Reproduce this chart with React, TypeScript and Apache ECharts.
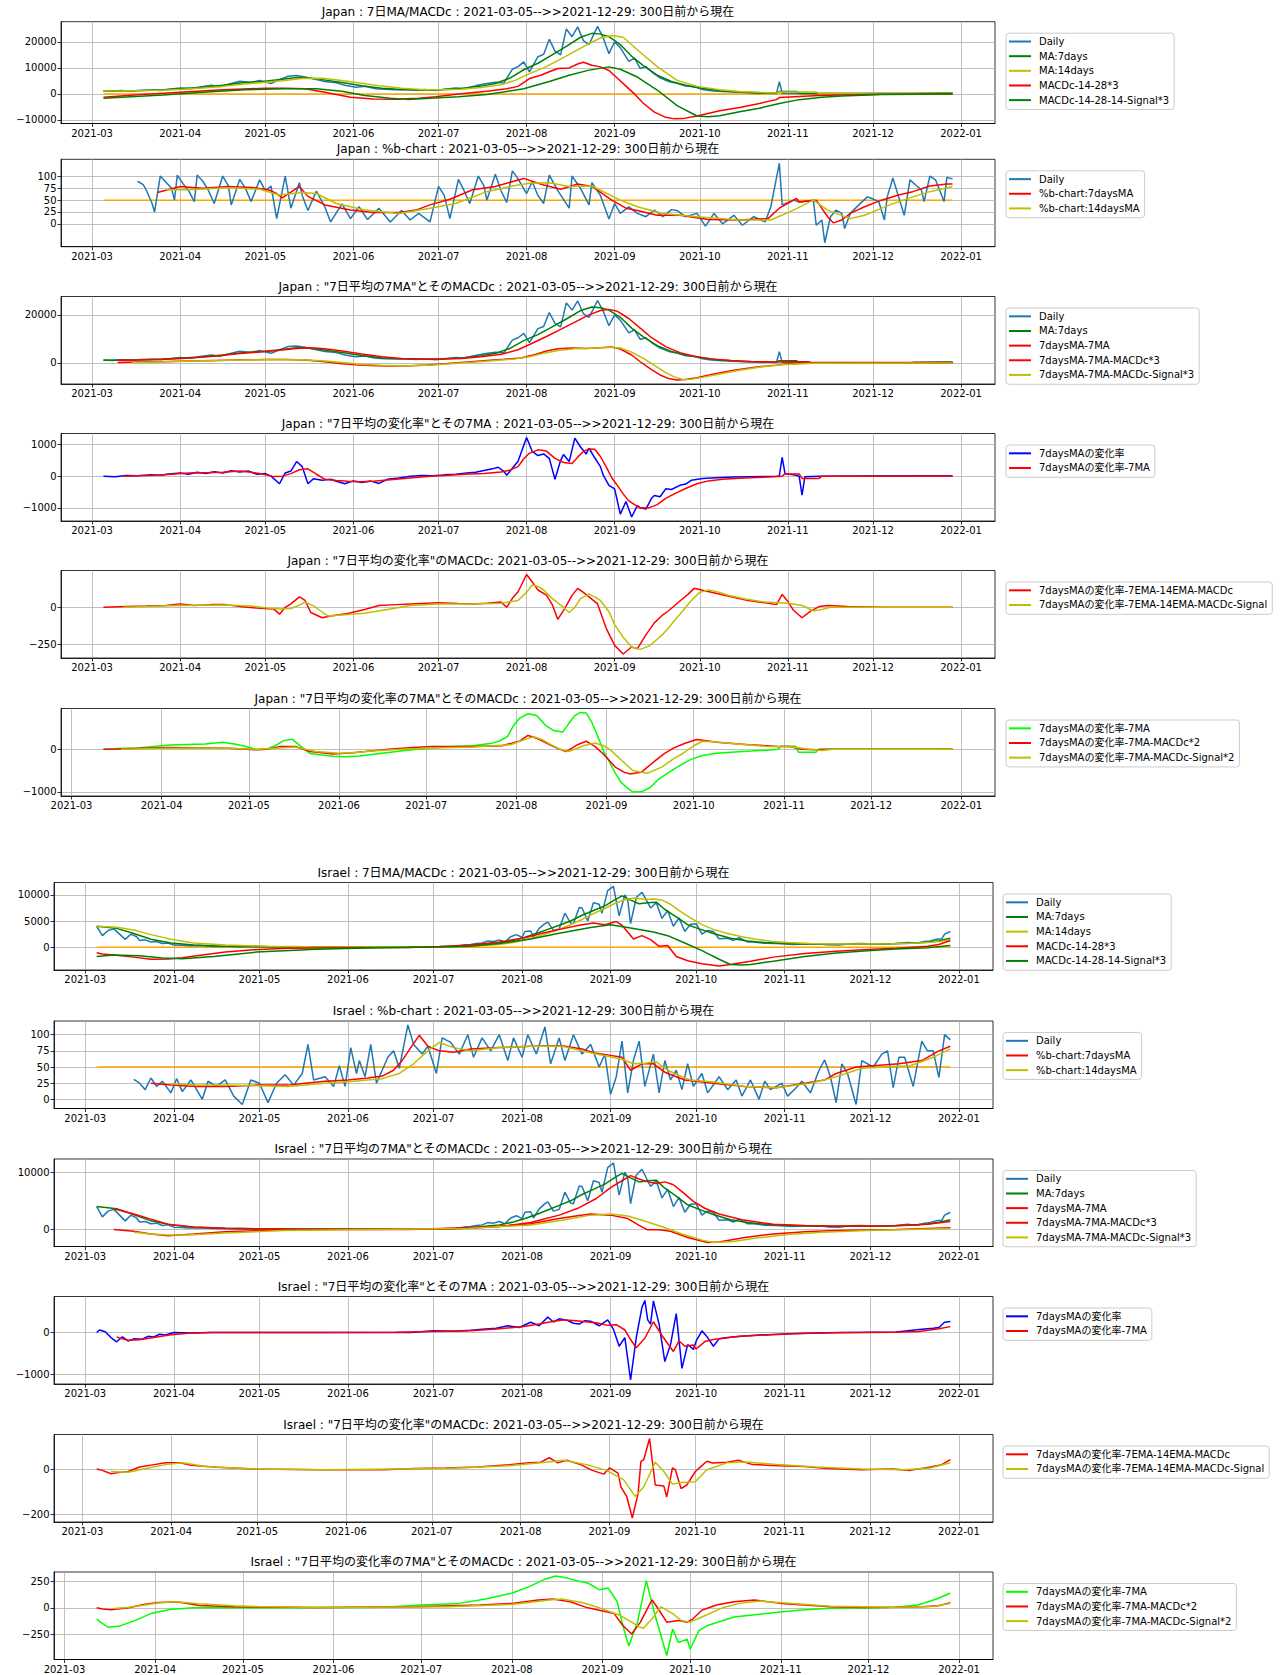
import React, { useEffect, useRef } from "react";
import * as echarts from "echarts";

type P = [number, number][];

const START = Date.UTC(2021, 2, 5);
const DAY = 86400000;
const FONT = "'DejaVu Sans', 'Noto Sans CJK JP', sans-serif";

const xTickLabels = ["2021-03", "2021-04", "2021-05", "2021-06", "2021-07", "2021-08", "2021-09", "2021-10", "2021-11", "2021-12", "2022-01"];

// ---------- Japan ----------
const jpDaily: P = [[0,1250],[3,1050],[6,1300],[10,1150],[13,1400],[17,1500],[20,1300],[24,1900],[27,2300],[31,2000],[34,2700],[38,3300],[41,2800],[45,4000],[48,4900],[52,4400],[55,5200],[59,4000],[62,5500],[65,6800],[68,7100],[71,6500],[75,5500],[78,4800],[82,4300],[85,3300],[89,2600],[92,2900],[96,2000],[99,1800],[103,1600],[106,1700],[110,1400],[113,1700],[117,1300],[120,1800],[124,2300],[127,2100],[131,3100],[134,3800],[138,4500],[141,4200],[144,9500],[146,10500],[148,12300],[150,8500],[153,14300],[155,15200],[157,21000],[159,16500],[161,15000],[163,25000],[165,22000],[167,25800],[169,20500],[171,19000],[174,26000],[176,21500],[178,15500],[180,20000],[182,17800],[185,12500],[187,13800],[189,9800],[191,10500],[193,8500],[196,6200],[199,4800],[202,4100],[205,3000],[208,2800],[211,1700],[214,1200],[218,900],[222,700],[226,500],[230,350],[234,250],[237,200],[238,4700],[239,250],[245,150],[255,120],[265,130],[275,120],[285,200],[292,300],[299,400]];
const jpMa7: P = [[0,1150],[7,1250],[14,1350],[21,1600],[28,2100],[35,2600],[42,3300],[49,4300],[56,4800],[63,5600],[68,6300],[72,6200],[77,5500],[84,4400],[91,3100],[98,2200],[105,1700],[112,1550],[119,1600],[126,2100],[133,3000],[138,4000],[143,6000],[148,9300],[153,11800],[158,15000],[163,18300],[168,21800],[172,23300],[175,23000],[178,22000],[182,19000],[186,14500],[190,11000],[195,7200],[200,4800],[205,3300],[210,2300],[217,1200],[224,700],[231,400],[237,300],[238,950],[244,950],[245,200],[255,130],[270,130],[285,170],[299,330]];
const jpMa14: P = [[0,1150],[7,1200],[14,1300],[21,1450],[28,1800],[35,2300],[42,2900],[49,3700],[56,4400],[63,5100],[70,5900],[77,6000],[84,5200],[91,4100],[98,3000],[105,2200],[112,1700],[119,1600],[126,1800],[133,2500],[140,3500],[145,5200],[150,7800],[155,10000],[160,12800],[165,15800],[170,18800],[175,21500],[179,22500],[183,21800],[188,17000],[195,10500],[202,5200],[209,2900],[217,1600],[224,900],[231,600],[237,400],[238,700],[251,700],[252,180],[265,140],[280,160],[299,280]];
const jpMacd: P = [[0,-1300],[12,-300],[27,650],[42,1570],[57,2200],[64,2200],[71,1960],[78,650],[87,-1300],[95,-1960],[103,-2090],[111,-1700],[117,-1050],[125,0],[135,1050],[142,1960],[146,2900],[150,5900],[154,7200],[157,8500],[160,9800],[164,10000],[167,11500],[169,12200],[172,11000],[175,10400],[178,9000],[181,6000],[184,3000],[187,0],[190,-3500],[194,-7000],[198,-9000],[201,-9600],[204,-9500],[209,-8500],[217,-6500],[224,-5200],[231,-3650],[237,-2200],[238,-1400],[245,-1000],[252,-650],[260,-400],[274,-150],[299,0]];
const jpMacdSig: P = [[0,-1700],[21,-400],[35,650],[50,1570],[64,1960],[75,1960],[84,1050],[92,-650],[101,-1700],[107,-2100],[115,-1700],[125,-1050],[135,-260],[148,1960],[157,4800],[164,7200],[171,9150],[178,10400],[182,9500],[188,6500],[195,1500],[202,-4500],[209,-8500],[213,-8800],[217,-8400],[224,-6900],[231,-5500],[238,-3650],[245,-2200],[253,-1300],[260,-800],[274,-260],[299,0]];
const jpPctB: P = [[12,90],[14,83],[15,72],[17,45],[18,25],[20,101],[22,88],[24,75],[25,50],[26,103],[28,85],[30,70],[32,47],[33,103],[35,90],[37,70],[39,43],[42,101],[44,80],[45,40],[48,94],[50,75],[52,47],[55,93],[57,70],[59,80],[61,11],[64,101],[66,33],[69,87],[70,60],[72,28],[75,69],[78,35],[80,4],[84,42],[87,11],[90,36],[93,9],[97,33],[101,4],[105,28],[108,8],[111,22],[115,4],[118,79],[120,60],[122,11],[125,94],[127,70],[129,43],[132,101],[134,80],[135,50],[138,105],[140,70],[142,45],[144,112],[146,95],[149,64],[151,89],[153,60],[155,43],[157,103],[160,70],[164,33],[165,101],[168,75],[171,40],[172,87],[175,60],[178,10],[180,43],[182,22],[185,36],[188,22],[191,15],[194,29],[197,15],[200,30],[202,28],[205,15],[209,22],[212,-5],[215,22],[218,0],[222,18],[225,-3],[229,15],[233,4],[235,36],[238,128],[239,40],[243,50],[245,46],[250,50],[251,-3],[253,8],[254,-40],[256,15],[258,29],[260,22],[261,-10],[263,22],[266,40],[269,57],[270,55],[273,47],[275,8],[276,57],[278,97],[280,57],[282,18],[284,93],[286,82],[288,72],[289,47],[291,101],[293,93],[296,47],[297,98],[299,95]];
const jpPctB7: P = [[19,66],[27,79],[35,75],[44,79],[52,77],[58,72],[61,64],[63,55],[69,79],[72,58],[78,40],[87,29],[95,24],[104,24],[110,29],[115,40],[122,52],[130,72],[138,79],[148,96],[155,82],[161,73],[167,84],[172,79],[179,50],[184,33],[188,28],[195,18],[203,18],[213,9],[224,8],[234,11],[238,33],[243,50],[244,54],[245,46],[251,50],[255,15],[257,2],[260,8],[263,22],[268,36],[274,50],[280,61],[285,68],[291,80],[297,84],[299,84]];
const jpPctB14: P = [[22,72],[30,72],[44,76],[55,73],[62,61],[70,66],[75,64],[82,43],[92,29],[104,22],[115,33],[124,43],[135,68],[144,80],[150,86],[157,87],[164,79],[172,80],[182,50],[188,36],[197,22],[209,15],[224,8],[235,8],[243,29],[250,50],[255,29],[263,11],[268,18],[277,40],[285,57],[291,68],[299,79]];
const jpMa7Ma7: P = [[5,1150],[12,1250],[19,1400],[26,1800],[33,2300],[40,2900],[47,3800],[54,4500],[61,5200],[68,6000],[73,6300],[78,5900],[84,5000],[91,3700],[98,2600],[105,1900],[112,1600],[119,1600],[126,1900],[133,2600],[140,3600],[146,5500],[151,8200],[156,11000],[161,14000],[166,17000],[171,20000],[175,21800],[178,22300],[181,21500],[185,18500],[189,14500],[193,10500],[198,6800],[203,4300],[208,2800],[214,1700],[221,1000],[228,650],[235,450],[241,400],[242,550],[248,550],[249,300],[260,180],[275,150],[299,230]];
const jpMa7Macd: P = [[5,200],[12,350],[20,550],[30,800],[40,1050],[50,1300],[57,1450],[64,1450],[71,1200],[78,500],[84,-300],[90,-900],[96,-1200],[102,-1250],[108,-1150],[114,-800],[120,-300],[127,300],[134,900],[141,1500],[147,2100],[152,3500],[156,5000],[160,5900],[165,6200],[170,6000],[175,6300],[179,6600],[182,5800],[186,3300],[189,500],[193,-2800],[196,-5000],[199,-6500],[202,-7100],[205,-6900],[209,-6100],[215,-4600],[222,-3000],[230,-1700],[237,-900],[241,-300],[250,0],[299,20]];
const jpMa7MacdSig: P = [[10,150],[15,300],[25,600],[35,900],[45,1150],[55,1350],[62,1400],[70,1300],[78,800],[85,100],[92,-600],[98,-1000],[104,-1150],[110,-1050],[116,-800],[122,-350],[130,300],[138,1000],[145,1700],[150,2600],[155,4000],[160,5200],[166,5900],[172,6100],[178,6500],[182,6200],[186,4500],[190,2000],[194,-1000],[198,-4000],[201,-5800],[204,-6900],[207,-6800],[211,-6000],[217,-4600],[224,-3000],[232,-1600],[240,-600],[250,-100],[299,20]];
const jpRoc: P = [[0,0],[4,-20],[8,20],[12,10],[16,40],[20,30],[23,70],[27,100],[30,60],[33,120],[36,80],[39,140],[42,100],[45,170],[48,130],[51,160],[54,60],[57,80],[59,0],[62,-240],[64,100],[66,160],[68,460],[70,300],[72,-240],[74,-80],[77,-130],[80,-100],[82,-160],[85,-240],[88,-150],[91,-200],[94,-150],[97,-230],[100,-100],[104,-60],[108,0],[112,20],[116,10],[120,40],[124,60],[128,100],[131,120],[134,180],[137,230],[139,280],[141,150],[142,30],[144,250],[146,470],[149,1220],[151,780],[153,650],[155,700],[157,560],[159,-100],[161,500],[162,680],[164,460],[166,1200],[168,920],[170,700],[171,880],[173,580],[175,300],[176,30],[178,-290],[180,-400],[182,-1200],[184,-800],[186,-1290],[188,-930],[189,-1000],[191,-1040],[193,-700],[194,-610],[196,-650],[198,-400],[200,-420],[203,-290],[205,-250],[207,-130],[211,-75],[216,-50],[222,-30],[227,-20],[233,-10],[237,0],[238,5],[239,590],[240,85],[244,30],[245,-10],[246,-600],[247,-20],[252,0],[270,5],[299,10]];
const jpRoc7: P = [[7,0],[9,5],[12,15],[19,30],[25,70],[30,100],[36,110],[42,120],[48,160],[52,120],[55,80],[60,-15],[63,0],[66,80],[69,200],[72,230],[75,60],[78,-100],[82,-137],[86,-165],[90,-177],[95,-160],[100,-120],[105,-80],[110,-40],[115,0],[120,24],[127,60],[134,80],[140,130],[143,185],[146,300],[148,550],[150,720],[153,830],[156,790],[159,560],[162,430],[165,400],[167,600],[169,780],[171,860],[173,850],[175,620],[177,300],[179,-50],[181,-300],[183,-560],[185,-780],[187,-900],[189,-1005],[192,-1000],[195,-900],[198,-700],[201,-560],[205,-390],[209,-240],[213,-150],[218,-97],[224,-65],[230,-45],[236,-20],[239,0],[240,70],[245,70],[246,-72],[252,-72],[253,0],[270,0],[299,5]];
const jpRocMacd: P = [[0,0],[8,5],[15,8],[22,12],[27,23],[32,12],[38,18],[43,18],[48,5],[54,-5],[58,-10],[60,-12],[62,-46],[64,0],[66,23],[69,70],[71,46],[73,-35],[77,-70],[80,-58],[86,-42],[92,-15],[97,12],[103,18],[108,23],[118,30],[125,25],[130,23],[135,28],[140,35],[142,0],[144,60],[146,104],[149,220],[151,170],[153,116],[156,81],[158,20],[160,-81],[162,-20],[163,12],[165,80],[167,127],[169,100],[171,70],[174,23],[177,-139],[180,-255],[183,-313],[186,-266],[188,-278],[191,-185],[194,-104],[197,-50],[199,-23],[203,42],[206,90],[208,127],[211,115],[216,93],[221,70],[227,46],[233,30],[237,18],[239,86],[241,40],[243,-20],[246,-70],[249,-25],[252,5],[255,12],[262,5],[275,0],[299,0]];
const jpRocMacdSig: P = [[7,0],[15,5],[23,10],[33,14],[43,15],[52,8],[58,-5],[62,-12],[66,-8],[69,15],[71,35],[74,10],[76,-18],[79,-58],[85,-50],[92,-40],[100,-15],[108,12],[118,23],[130,23],[140,28],[146,46],[149,100],[151,150],[153,140],[155,116],[158,60],[162,0],[164,-35],[166,0],[168,58],[171,88],[173,70],[175,46],[178,-30],[180,-116],[183,-200],[186,-266],[189,-282],[192,-260],[194,-231],[197,-180],[199,-139],[201,-90],[203,-46],[207,46],[210,100],[213,116],[217,100],[220,81],[226,55],[233,35],[241,28],[246,12],[250,-23],[253,-15],[256,0],[299,0]];
const jpRoc7Macd: P = [[7,0],[12,5],[20,20],[30,40],[40,35],[50,24],[59,-16],[63,-5],[68,64],[73,64],[78,-56],[86,-113],[92,-90],[97,-56],[105,0],[112,35],[120,64],[134,64],[144,80],[150,185],[153,322],[155,280],[157,225],[160,120],[163,24],[166,-56],[168,20],[170,105],[173,185],[176,64],[179,-120],[183,-420],[186,-540],[188,-580],[192,-540],[197,-258],[200,-100],[203,24],[207,140],[211,225],[215,190],[218,161],[229,105],[239,64],[243,60],[247,0],[252,-16],[256,0],[299,0]];
const jpRoc7MacdSig: P = [[13,0],[25,15],[40,25],[50,20],[60,-5],[66,20],[73,48],[80,-56],[88,-97],[95,-70],[100,-40],[110,0],[120,30],[134,48],[147,105],[152,230],[155,290],[158,220],[161,100],[164,0],[167,-56],[170,20],[172,80],[176,145],[179,80],[181,0],[185,-250],[189,-500],[194,-565],[199,-420],[203,-230],[206,-113],[210,80],[213,185],[218,170],[222,140],[235,64],[243,55],[250,0],[254,-32],[258,0],[299,0]];

// ---------- Israel ----------
const ilDaily: P = [[0,4000],[2,2200],[4,3200],[6,3500],[8,2500],[10,1500],[12,2500],[14,2000],[15,1300],[17,1400],[19,1000],[21,1100],[23,700],[25,800],[27,400],[30,350],[32,250],[36,300],[41,150],[46,120],[50,100],[56,80],[62,60],[70,50],[77,30],[85,20],[95,15],[105,15],[112,20],[118,40],[122,150],[126,200],[129,450],[131,500],[133,700],[135,800],[137,1200],[139,1100],[141,1400],[143,1000],[145,2000],[147,2400],[149,1900],[150,3000],[152,3100],[153,2000],[155,3600],[157,4500],[158,4800],[160,3200],[162,3500],[164,6500],[166,4600],[167,4500],[169,7600],[170,7500],[172,5000],[174,8500],[176,8200],[177,6500],[179,10800],[181,11600],[183,6000],[185,10000],[186,9000],[187,4500],[189,9500],[191,10500],[193,8500],[194,7500],[196,8500],[198,5500],[200,7000],[202,4000],[204,5600],[206,3000],[208,4400],[210,4500],[212,2500],[214,3200],[216,3000],[218,1600],[221,1700],[223,1300],[225,1800],[228,1000],[230,1000],[234,750],[238,700],[244,500],[248,600],[252,650],[256,450],[260,400],[264,650],[268,700],[272,550],[276,600],[280,700],[284,900],[287,750],[290,1100],[292,1200],[294,1500],[296,1600],[297,2500],[299,3000]];
const ilMa7: P = [[0,4000],[7,3600],[13,2600],[19,1500],[26,800],[34,400],[45,200],[60,100],[75,60],[90,20],[105,15],[115,25],[120,60],[126,150],[131,300],[136,550],[141,800],[146,1300],[150,1900],[154,2600],[158,3400],[162,4200],[166,5000],[170,6100],[174,7000],[178,7900],[181,8900],[184,9800],[187,9000],[190,8300],[193,8500],[196,8600],[199,7200],[203,5800],[207,4300],[211,3500],[216,2600],[222,1700],[228,1200],[234,900],[240,750],[248,620],[256,560],[265,580],[275,620],[285,750],[291,950],[295,1250],[299,1700]];
const ilMa14: P = [[0,4000],[7,3800],[13,3300],[19,2400],[26,1500],[34,800],[45,400],[60,180],[75,80],[90,30],[105,20],[115,25],[120,40],[126,100],[131,200],[136,350],[141,500],[146,900],[151,1500],[156,2300],[161,3200],[166,4300],[170,5300],[174,6400],[178,7400],[182,8500],[186,9200],[189,9400],[192,9100],[195,9200],[198,9000],[201,8200],[204,7000],[208,5600],[212,4300],[216,3400],[221,2600],[226,2000],[231,1500],[236,1150],[242,900],[250,700],[258,620],[268,600],[278,650],[286,750],[292,950],[296,1150],[299,1400]];
const ilMacd: P = [[0,-1050],[2,-1300],[6,-1500],[13,-1900],[19,-2300],[25,-2250],[30,-2000],[35,-1650],[45,-940],[55,-500],[67,-220],[88,-110],[109,-50],[120,110],[131,440],[141,1000],[150,1800],[156,2650],[163,3500],[169,4200],[174,4600],[178,4300],[182,4900],[184,4200],[186,2900],[188,1550],[191,2200],[194,1440],[197,165],[200,330],[203,-1770],[207,-2600],[212,-3150],[218,-3600],[222,-3300],[229,-2700],[237,-1900],[248,-1215],[259,-770],[270,-440],[280,-220],[291,165],[295,500],[299,1270]];
const ilMacdSig: P = [[0,-1770],[6,-1500],[15,-1650],[23,-2050],[30,-2200],[41,-1770],[56,-940],[77,-390],[98,-110],[120,55],[131,160],[141,720],[152,1550],[162,2650],[173,3750],[180,4300],[186,3750],[195,2900],[200,2200],[206,800],[212,-660],[218,-2300],[222,-3300],[226,-3400],[229,-3300],[237,-2700],[248,-1800],[259,-1100],[270,-660],[280,-330],[291,-110],[299,330]];
const ilPctB: P = [[13,31],[15,25],[17,15],[19,33],[21,20],[23,28],[26,10],[28,32],[30,12],[33,30],[37,0],[39,28],[42,20],[45,30],[48,5],[51,-8],[54,30],[57,25],[60,-5],[63,25],[66,38],[69,22],[72,40],[74,85],[76,30],[80,35],[83,20],[85,52],[87,20],[89,80],[91,40],[92,60],[94,35],[96,85],[98,25],[100,45],[102,65],[104,75],[106,48],[109,115],[111,85],[114,70],[116,82],[119,40],[121,95],[124,88],[127,70],[130,100],[132,65],[135,95],[138,75],[141,100],[144,60],[146,95],[149,65],[151,100],[154,70],[157,112],[159,55],[162,95],[164,60],[167,100],[170,70],[173,85],[176,50],[178,70],[180,8],[182,35],[184,90],[186,10],[188,60],[190,90],[192,20],[195,70],[197,10],[199,60],[201,30],[203,45],[205,15],[207,55],[209,20],[212,40],[214,10],[218,35],[221,15],[224,30],[226,5],[229,30],[232,0],[234,28],[236,15],[240,25],[242,5],[245,18],[247,28],[250,10],[253,45],[255,61],[257,35],[259,-5],[261,55],[263,40],[266,-8],[268,60],[272,50],[275,70],[277,75],[279,18],[281,65],[283,65],[286,20],[289,90],[291,75],[293,75],[295,34],[297,100],[299,92]];
const ilPctB7: P = [[19,25],[26,22],[35,20],[45,20],[56,22],[67,22],[73,25],[80,28],[88,30],[95,33],[100,36],[104,45],[107,60],[110,80],[113,99],[116,82],[120,75],[125,73],[131,78],[141,80],[152,82],[163,83],[170,78],[174,72],[180,68],[184,65],[187,45],[191,55],[195,55],[199,42],[203,35],[206,30],[216,25],[227,20],[238,18],[248,25],[255,30],[259,40],[266,50],[272,52],[281,55],[289,60],[295,75],[299,82]];
const ilPctB14: P = [[26,24],[35,22],[45,22],[56,21],[67,20],[80,25],[90,28],[100,32],[106,40],[111,55],[116,75],[120,88],[125,80],[131,75],[141,80],[152,82],[163,82],[173,72],[184,62],[188,55],[192,56],[196,58],[200,45],[205,35],[208,30],[216,27],[227,20],[238,18],[250,25],[259,35],[268,48],[276,50],[285,52],[293,65],[299,78]];
const ilMa7Ma7: P = [[6,3600],[13,2700],[19,1800],[25,900],[34,450],[45,200],[66,80],[88,20],[109,20],[120,40],[130,200],[141,500],[152,1200],[162,2500],[169,3800],[175,5400],[180,7300],[184,8500],[187,9400],[190,8800],[193,8300],[196,8000],[199,8300],[202,7800],[205,6600],[209,4900],[213,3700],[218,2700],[226,1700],[237,900],[248,700],[259,600],[270,600],[280,650],[291,900],[299,1400]];
const ilMa7Macd: P = [[6,0],[13,-300],[19,-780],[25,-1080],[34,-800],[45,-420],[66,-60],[88,0],[109,10],[130,300],[141,540],[152,1000],[162,1900],[169,2450],[173,2700],[180,2500],[186,1900],[190,720],[193,-60],[197,-60],[201,-300],[207,-1400],[214,-2280],[218,-2200],[227,-1400],[237,-780],[248,-420],[259,-180],[280,0],[299,300]];
const ilMa7MacdSig: P = [[13,-480],[19,-780],[25,-960],[32,-960],[45,-600],[66,-200],[88,-30],[130,180],[152,780],[163,1600],[173,2500],[180,2700],[186,2350],[193,1300],[199,300],[205,-780],[212,-1860],[216,-2280],[223,-2100],[231,-1500],[242,-900],[254,-480],[270,-180],[299,180]];
const ilRoc: P = [[0,0],[1,60],[3,20],[5,-120],[7,-220],[9,-100],[11,-200],[13,-150],[16,-160],[18,-90],[20,-105],[22,-40],[24,-57],[27,0],[33,-10],[40,0],[60,0],[80,0],[100,0],[110,0],[118,40],[125,30],[131,57],[135,80],[140,100],[144,160],[148,120],[152,245],[155,160],[158,365],[160,250],[162,325],[165,285],[167,220],[169,200],[171,280],[173,270],[176,160],[179,300],[181,80],[183,-325],[185,-120],[187,-1126],[189,-120],[191,600],[192,760],[193,300],[194,200],[195,750],[197,200],[199,-690],[201,-285],[203,450],[205,-850],[207,-285],[209,-400],[210,-200],[212,40],[214,-120],[216,-325],[218,-150],[221,-120],[227,-80],[235,-50],[245,-20],[260,0],[280,10],[289,80],[293,100],[295,120],[297,245],[299,260]];
const ilRoc7: P = [[7,-103],[8,-130],[11,-183],[15,-170],[20,-120],[26,-50],[32,-15],[40,0],[60,0],[80,2],[105,5],[118,26],[131,42],[140,83],[149,138],[155,200],[160,266],[164,300],[168,280],[172,250],[175,234],[179,170],[182,186],[185,60],[187,-166],[189,-360],[192,-135],[195,256],[198,-70],[202,-449],[204,-200],[206,-327],[209,-295],[210,-390],[213,-215],[216,-166],[225,-86],[236,-54],[247,-22],[258,-5],[269,-2],[280,5],[288,26],[295,90],[299,140]];
const ilRocMacd: P = [[1,3],[3,-3],[6,-18],[9,-12],[12,-8],[16,12],[21,23],[25,31],[30,31],[34,20],[43,11],[56,3],[79,0],[101,0],[112,5],[123,8],[134,12],[145,23],[152,31],[156,34],[159,54],[162,31],[165,43],[170,23],[174,-3],[178,-20],[180,8],[183,-15],[184,-77],[186,-120],[188,-218],[190,-108],[191,38],[192,46],[194,141],[196,-69],[199,-74],[200,-123],[202,8],[203,0],[205,-85],[207,-69],[210,-8],[212,15],[214,38],[216,30],[221,34],[225,43],[230,23],[239,18],[248,15],[256,5],[268,0],[279,3],[285,-3],[292,12],[296,23],[299,46]];
const ilRocMacdSig: P = [[6,-8],[12,-11],[19,8],[25,23],[31,31],[39,15],[56,3],[79,0],[123,6],[145,18],[156,31],[164,43],[172,23],[179,-3],[185,-46],[189,-120],[192,-77],[196,34],[199,-8],[202,-65],[205,-58],[210,-54],[214,0],[221,31],[228,35],[239,23],[252,12],[268,3],[283,0],[292,8],[299,31]];
const ilRoc7Macd: P = [[7,0],[9,-10],[12,-18],[18,0],[23,31],[28,50],[33,55],[36,50],[42,22],[54,10],[62,8],[83,3],[116,10],[138,26],[149,42],[158,74],[163,83],[169,58],[175,0],[179,-22],[184,-54],[187,-166],[190,-247],[193,-135],[196,26],[197,74],[199,-6],[202,-135],[206,-119],[209,-135],[211,-103],[214,-22],[219,26],[225,58],[232,74],[241,42],[249,26],[258,10],[269,3],[280,6],[289,10],[295,19],[299,48]];
const ilRoc7MacdSig: P = [[13,-6],[18,5],[23,25],[28,45],[34,58],[42,38],[54,19],[62,13],[83,3],[127,10],[149,32],[162,74],[166,83],[173,51],[179,0],[186,-70],[193,-183],[194,-192],[197,-103],[200,10],[204,-54],[207,-119],[210,-135],[214,-86],[221,0],[227,42],[234,64],[245,42],[258,16],[280,6],[293,13],[299,42]];

const zeroLine: P = [[0, 0], [299, 0]];
const fiftyLine: P = [[0, 50], [299, 50]];

const jpTicks1 = [-10000, 0, 10000, 20000];
const pctTicks = [0, 25, 50, 75, 100];
const jpTicks3 = [0, 20000];
const jpTicks4 = [-1000, 0, 1000];
const jpTicks5 = [-250, 0];
const jpTicks6 = [-1000, 0];
const ilTicks7 = [0, 5000, 10000];
const ilTicks9 = [0, 10000];
const ilTicks10 = [-1000, 0];
const ilTicks11 = [-200, 0];
const ilTicks12 = [-250, 0, 250];

const RANGE = "2021-03-05-->>2021-12-29: 300日前から現在";

const C = {
  daily: "#1f77b4",
  green: "#008000",
  yellow: "#bfbf00",
  red: "#ff0000",
  blue: "#0000ff",
  lime: "#00ff00",
  orange: "#ffa500",
};

interface SDef { name: string; data: P; color: string; legend: boolean }
interface PDef { title: string; left: number; right: number; top: number; height: number; ticks: number[]; series: SDef[] }

const S = (name: string, data: P, color: string, legend = true): SDef => ({ name, data, color, legend });

const JL = 61, JR = 995, IL = 54, IR = 993;

const panels: PDef[] = [
  { title: "Japan : 7日MA/MACDc : " + RANGE, left: JL, right: JR, top: 21.7, height: 101.8, ticks: jpTicks1, series: [
    S("", zeroLine, C.orange, false), S("Daily", jpDaily, C.daily), S("MA:7days", jpMa7, C.green), S("MA:14days", jpMa14, C.yellow), S("MACDc-14-28*3", jpMacd, C.red), S("MACDc-14-28-14-Signal*3", jpMacdSig, C.green)] },
  { title: "Japan : %b-chart : " + RANGE, left: JL, right: JR, top: 159.3, height: 87.4, ticks: pctTicks, series: [
    S("", fiftyLine, C.orange, false), S("Daily", jpPctB, C.daily), S("%b-chart:7daysMA", jpPctB7, C.red), S("%b-chart:14daysMA", jpPctB14, C.yellow)] },
  { title: "Japan : \"7日平均の7MA\"とそのMACDc : " + RANGE, left: JL, right: JR, top: 296.5, height: 87.5, ticks: jpTicks3, series: [
    S("Daily", jpDaily, C.daily), S("MA:7days", jpMa7, C.green), S("7daysMA-7MA", jpMa7Ma7, C.red), S("7daysMA-7MA-MACDc*3", jpMa7Macd, C.red), S("7daysMA-7MA-MACDc-Signal*3", jpMa7MacdSig, C.yellow)] },
  { title: "Japan : \"7日平均の変化率\"とその7MA : " + RANGE, left: JL, right: JR, top: 433.5, height: 87.5, ticks: jpTicks4, series: [
    S("7daysMAの変化率", jpRoc, C.blue), S("7daysMAの変化率-7MA", jpRoc7, C.red)] },
  { title: "Japan : \"7日平均の変化率\"のMACDc: " + RANGE, left: JL, right: JR, top: 570.5, height: 87.5, ticks: jpTicks5, series: [
    S("7daysMAの変化率-7EMA-14EMA-MACDc", jpRocMacd, C.red), S("7daysMAの変化率-7EMA-14EMA-MACDc-Signal", jpRocMacdSig, C.yellow)] },
  { title: "Japan : \"7日平均の変化率の7MA\"とそのMACDc : " + RANGE, left: JL, right: JR, top: 708.5, height: 87.5, ticks: jpTicks6, series: [
    S("7daysMAの変化率-7MA", jpRoc7, C.lime), S("7daysMAの変化率-7MA-MACDc*2", jpRoc7Macd, C.red), S("7daysMAの変化率-7MA-MACDc-Signal*2", jpRoc7MacdSig, C.yellow)] },
  { title: "Israel : 7日MA/MACDc : " + RANGE, left: IL, right: IR, top: 882.5, height: 87.5, ticks: ilTicks7, series: [
    S("", zeroLine, C.orange, false), S("Daily", ilDaily, C.daily), S("MA:7days", ilMa7, C.green), S("MA:14days", ilMa14, C.yellow), S("MACDc-14-28*3", ilMacd, C.red), S("MACDc-14-28-14-Signal*3", ilMacdSig, C.green)] },
  { title: "Israel : %b-chart : " + RANGE, left: IL, right: IR, top: 1021, height: 87.5, ticks: pctTicks, series: [
    S("", fiftyLine, C.orange, false), S("Daily", ilPctB, C.daily), S("%b-chart:7daysMA", ilPctB7, C.red), S("%b-chart:14daysMA", ilPctB14, C.yellow)] },
  { title: "Israel : \"7日平均の7MA\"とそのMACDc : " + RANGE, left: IL, right: IR, top: 1159, height: 87.5, ticks: ilTicks9, series: [
    S("Daily", ilDaily, C.daily), S("MA:7days", ilMa7, C.green), S("7daysMA-7MA", ilMa7Ma7, C.red), S("7daysMA-7MA-MACDc*3", ilMa7Macd, C.red), S("7daysMA-7MA-MACDc-Signal*3", ilMa7MacdSig, C.yellow)] },
  { title: "Israel : \"7日平均の変化率\"とその7MA : " + RANGE, left: IL, right: IR, top: 1296.5, height: 87.5, ticks: ilTicks10, series: [
    S("7daysMAの変化率", ilRoc, C.blue), S("7daysMAの変化率-7MA", ilRoc7, C.red)] },
  { title: "Israel : \"7日平均の変化率\"のMACDc: " + RANGE, left: IL, right: IR, top: 1434.5, height: 87.5, ticks: ilTicks11, series: [
    S("7daysMAの変化率-7EMA-14EMA-MACDc", ilRocMacd, C.red), S("7daysMAの変化率-7EMA-14EMA-MACDc-Signal", ilRocMacdSig, C.yellow)] },
  { title: "Israel : \"7日平均の変化率の7MA\"とそのMACDc : " + RANGE, left: IL, right: IR, top: 1572, height: 87.5, ticks: ilTicks12, series: [
    S("7daysMAの変化率-7MA", ilRoc7, C.lime), S("7daysMAの変化率-7MA-MACDc*2", ilRoc7Macd, C.red), S("7daysMAの変化率-7MA-MACDc-Signal*2", ilRoc7MacdSig, C.yellow)] },
];

const monthTs = xTickLabels.map((s) => {
  const [y, m] = s.split("-").map(Number);
  return Date.UTC(y, m - 1, 1);
});

const fmtMonth = (v: number) => {
  const d = new Date(Math.round(v));
  return `${d.getUTCFullYear()}-${String(d.getUTCMonth() + 1).padStart(2, "0")}`;
};
const fmtY = (v: number) => (v < 0 ? "\u2212" + Math.abs(v) : String(v));

function buildOption() {
  const grid: any[] = [];
  const xAxis: any[] = [];
  const yAxis: any[] = [];
  const series: any[] = [];
  const title: any[] = [];
  const legend: any[] = [];
  const axisLineStyle = { color: "#000", width: 0.8 };
  const splitStyle = { color: "#b0b0b0", width: 0.8 };
  const labelStyle = { fontSize: 10, fontFamily: FONT, color: "#000" };

  panels.forEach((p, i) => {
    let dMin = Infinity, dMax = -Infinity, vMin = Infinity, vMax = -Infinity;
    p.series.forEach((s) => s.data.forEach(([d, v]) => {
      dMin = Math.min(dMin, d); dMax = Math.max(dMax, d);
      vMin = Math.min(vMin, v); vMax = Math.max(vMax, v);
    }));
    const dPad = (dMax - dMin) * 0.05;
    const vPad = (vMax - vMin) * 0.05;
    grid.push({ left: p.left, top: p.top, width: p.right - p.left, height: p.height, containLabel: false, outerBoundsMode: "none", show: true, borderColor: "#000", borderWidth: 0.8, backgroundColor: "transparent" });
    xAxis.push({
      type: "value", gridIndex: i, scale: true,
      min: START + (dMin - dPad) * DAY, max: START + (dMax + dPad) * DAY,
      axisLine: { show: true, onZero: false, lineStyle: axisLineStyle },
      axisTick: { show: true, length: 3.5, lineStyle: axisLineStyle, customValues: monthTs },
      axisLabel: { ...labelStyle, margin: 4.5, customValues: monthTs, formatter: fmtMonth, hideOverlap: false },
      splitLine: { show: true, lineStyle: splitStyle },
    });
    yAxis.push({
      type: "value", gridIndex: i, scale: true,
      min: vMin - vPad, max: vMax + vPad,
      axisLine: { show: true, onZero: false, lineStyle: axisLineStyle },
      axisTick: { show: true, length: 3.5, lineStyle: axisLineStyle, customValues: p.ticks },
      axisLabel: { ...labelStyle, margin: 4.5, customValues: p.ticks, formatter: fmtY, hideOverlap: false },
      splitLine: { show: true, lineStyle: splitStyle },
    });
    title.push({
      text: p.title, left: (p.left + p.right) / 2, top: p.top - 17, textAlign: "center", padding: 0,
      textStyle: { fontSize: 12, fontWeight: "normal", fontFamily: FONT, color: "#000", lineHeight: 14 },
    });
    const leg = p.series.filter((s) => s.legend);
    legend.push({
      orient: "vertical", left: p.right + (p.left === JL ? 11 : 10), top: p.top + 11.5,
      padding: [1, 5, 2, 3], itemGap: 0, itemWidth: 22, itemHeight: 2, icon: "rect",
      backgroundColor: "rgba(255,255,255,0.8)", borderColor: "#cccccc", borderWidth: 1, borderRadius: 3,
      selectedMode: false,
      textStyle: { fontSize: 10, fontFamily: FONT, color: "#000", lineHeight: 14.65, padding: [0, 0, 0, 3] },
      data: leg.map((s) => ({ name: s.name, icon: "rect", itemStyle: { color: s.color, borderWidth: 0 } })),
    });
    p.series.forEach((s) => {
      series.push({
        type: "line", name: s.name, xAxisIndex: i, yAxisIndex: i,
        data: s.data.map(([d, v]) => [START + d * DAY, v]),
        showSymbol: false, symbol: "none", silent: true, clip: true,
        lineStyle: { color: s.color, width: 1.5 }, itemStyle: { color: s.color },
        emphasis: { disabled: true },
      });
    });
  });

  return { animation: false, backgroundColor: "#fff", textStyle: { fontFamily: FONT }, grid, xAxis, yAxis, series, title, legend, tooltip: { show: false } };
}

export default function App() {
  const ref = useRef<HTMLDivElement>(null);
  useEffect(() => {
    if (!ref.current) return;
    const chart = echarts.init(ref.current, undefined, { renderer: "svg" });
    chart.setOption(buildOption() as any);
    return () => chart.dispose();
  }, []);
  return <div ref={ref} style={{ position: "absolute", left: 0, top: 0, width: 1281, height: 1675, background: "#fff" }} />;
}
